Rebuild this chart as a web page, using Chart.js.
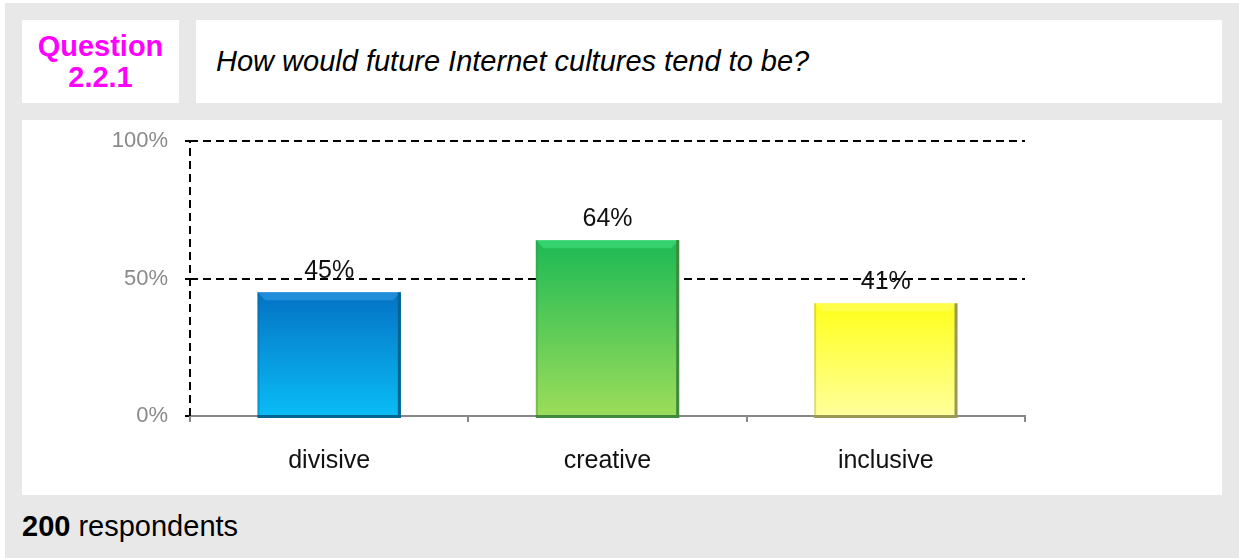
<!DOCTYPE html>
<html>
<head>
<meta charset="utf-8">
<script src="https://cdn.jsdelivr.net/npm/chart.js@4.4.0/dist/chart.umd.min.js"></script>
<style>
  body { margin: 0; background: #fff; font-family: "Liberation Sans", Arial, sans-serif; }
  #panel { position: absolute; left: 5px; top: 3px; width: 1234px; height: 555px; background: #e8e8e8; }
  .box { position: absolute; background: #fff; }
  #qnum { left: 17px; top: 17px; width: 157px; height: 83px; color: #ff00ff; font-weight: bold;
          font-size: 29px; text-align: center; line-height: 31px; padding-top: 11px; box-sizing: border-box; }
  #qtext { left: 191px; top: 17px; width: 1026px; height: 83px; font-style: italic; font-size: 29px;
           line-height: 83px; padding-left: 20px; box-sizing: border-box; }
  #chartBox { left: 17px; top: 117px; width: 1200px; height: 375px; }
  #myChart { position: absolute; left: 0; top: -9px; }
  #footer { position: absolute; left: 17px; top: 507px; font-size: 29px; }
</style>
</head>
<body>
<div id="panel">
  <div class="box" id="qnum">Question<br>2.2.1</div>
  <div class="box" id="qtext">How would future Internet cultures tend to be?</div>
  <div class="box" id="chartBox"><canvas id="myChart" width="1200" height="384"></canvas></div>
  <div id="footer"><b>200</b> respondents</div>
</div>
<script>
// chart data
const categories = ['divisive', 'creative', 'inclusive'];
const values = [45, 64, 41];
const yTicks = [0, 50, 100];

// colours per bar: [top, bottom, edge, highlight]
const barColors = [
	['#0472c4', '#0abcf6', '#05648f', '#45aef0'],
	['#1cb955', '#9cdd5a', '#3f8a3c', '#4ff08e'],
	['#ffff1a', '#ffff9c', '#9a9a55', '#ffff80']
];

function barGradient(context) {
	const chart = context.chart;
	const i = context.dataIndex;
	const c = barColors[i];
	if (!chart.chartArea || !chart.scales.y) return c[0];
	const y = chart.scales.y;
	const g = chart.ctx.createLinearGradient(0, y.getPixelForValue(values[i]), 0, y.getPixelForValue(0));
	g.addColorStop(0, c[0]);
	g.addColorStop(1, c[1]);
	return g;
}

// bevel edges, dashed y axis line + value labels
const bevelPlugin = {
	id: 'bevel',
	afterDatasetsDraw(chart) {
		const ctx = chart.ctx;
		const meta = chart.getDatasetMeta(0);
		meta.data.forEach((bar, i) => {
			const c = barColors[i];
			const left = bar.x - bar.width / 2;
			const right = bar.x + bar.width / 2;
			const top = bar.y;
			const bottom = bar.base + 3;
			ctx.save();
			// top highlight
			ctx.fillStyle = c[3];
			ctx.beginPath();
			ctx.moveTo(left, top);
			ctx.lineTo(right, top);
			ctx.lineTo(right - 8, top + 8);
			ctx.lineTo(left + 8, top + 8);
			ctx.closePath();
			ctx.globalAlpha = 0.45;
			ctx.fill();
			ctx.globalAlpha = 1;
			// edges
			ctx.fillStyle = c[2];
			ctx.fillRect(right - 3, top, 3, bottom - top);
			ctx.fillRect(left, bottom - 3, right - left, 3);
			ctx.globalAlpha = 0.35;
			ctx.fillRect(left, top, 2, bottom - top);
			ctx.restore();
		});
	},
	afterDraw(chart) {
		const ctx = chart.ctx;
		const area = chart.chartArea;
		ctx.save();
		ctx.strokeStyle = '#000';
		ctx.lineWidth = 2;
		ctx.setLineDash([8, 5]);
		ctx.beginPath();
		ctx.moveTo(area.left, area.bottom);
		ctx.lineTo(area.left, area.top);
		ctx.stroke();
		ctx.restore();

		const meta = chart.getDatasetMeta(0);
		ctx.save();
		ctx.font = '25px "Liberation Sans", Arial, sans-serif';
		ctx.fillStyle = '#111';
		ctx.textAlign = 'center';
		ctx.textBaseline = 'alphabetic';
		meta.data.forEach((bar, i) => {
			ctx.fillText(values[i] + '%', bar.x, bar.y - 14);
		});
		ctx.restore();
	}
};

new Chart(document.getElementById('myChart'), {
	type: 'bar',
	data: {
		labels: categories,
		datasets: [{
			data: values,
			backgroundColor: barGradient,
			borderWidth: 0,
			categoryPercentage: 1,
			barPercentage: 0.515
		}]
	},
	options: {
		responsive: false,
		animation: false,
		layout: { padding: { top: 10, right: 197, left: 0, bottom: 0 } },
		plugins: { legend: { display: false }, tooltip: { enabled: false } },
		scales: {
			x: {
				afterFit: (s) => { s.height = 79; },
				grid: { drawOnChartArea: false, color: '#888', lineWidth: 2, tickLength: 6, offset: true },
				border: { color: '#888', width: 2 },
				ticks: { color: '#111', padding: 24, font: { size: 25, family: '"Liberation Sans", Arial' } }
			},
			y: {
				min: 0,
				max: 100,
				afterFit: (s) => { s.width = 168; },
				afterBuildTicks: (s) => { s.ticks = yTicks.map(v => ({ value: v })); },
				grid: {
					color: (c) => c.tick && c.tick.value === 0 ? 'rgba(0,0,0,0)' : '#000',
					tickColor: '#000',
					lineWidth: 2,
					tickLength: 5,
					tickBorderDash: [0]
				},
				border: { display: false, dash: [8, 5] },
				ticks: {
					color: '#8a8a8a',
					padding: 17,
					font: { size: 22, family: '"Liberation Sans", Arial' },
					callback: (v) => v + '%'
				}
			}
		}
	},
	plugins: [bevelPlugin]
});
</script>
</body>
</html>
